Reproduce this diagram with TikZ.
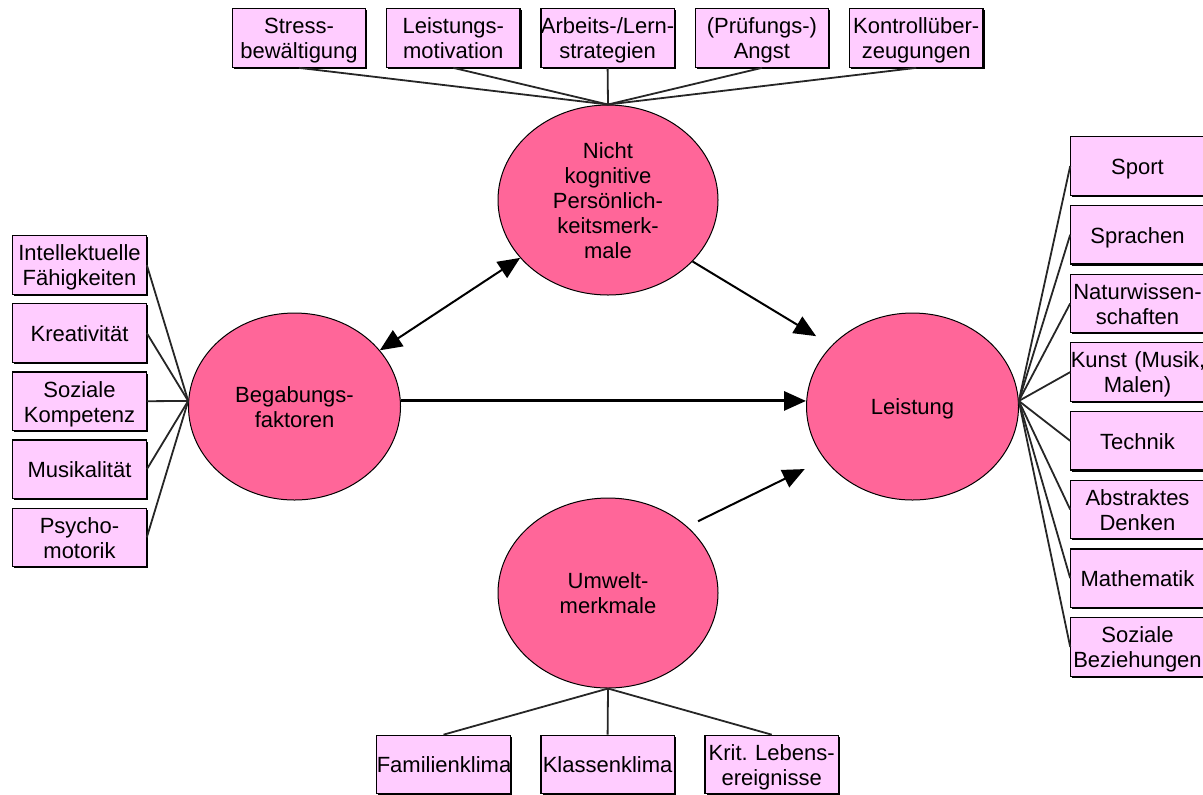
\documentclass[tikz,border=0pt]{standalone}
\usepackage{fontspec}
\setmainfont{Liberation Sans}
\usepackage{xcolor}
\usetikzlibrary{shapes.geometric, arrows.meta, positioning, shadows}
\frenchspacing

\definecolor{boxpink}{RGB}{255,204,255}
\definecolor{ballpink}{RGB}{255,102,153}

\begin{document}
\begin{tikzpicture}[x=0.5pt, y=-0.5pt, every node/.style={font=\fontsize{11}{12.5}\selectfont,
    execute at begin node={\rule{0pt}{11pt}}, execute at end node={\rule[-2.7pt]{0pt}{2.7pt}}}, align=center]
  % Styles
  \tikzset{
    >={Triangle[length=11pt, width=9.5pt]},
    feature/.style={rectangle, draw, line width=0.6pt, fill=boxpink, text width=66.7pt, minimum height=29.25pt, inner sep=0pt,
      drop shadow={shadow xshift=0.8pt, shadow yshift=-0.8pt, fill=black, opacity=1}},
    factor/.style={ellipse, draw, line width=0.5pt, fill=ballpink, text width=60pt, minimum width=110pt, minimum height=95pt, inner sep=0pt},
    link/.style={line width=0.9pt, black!85},
    arrow/.style={->, line width=1pt}
  }
  \useasboundingbox (0,0) rectangle (1203,794);

  % Factors
  \node (nkp) [factor] at (608,200) {Nicht\\kognitive\\Persönlich-\\keitsmerk-\\male};
  \node (beg) [factor, minimum width=106pt, minimum height=93.5pt] at (294.5,406.5) {Begabungs-\\faktoren};
  \node (leist) [factor, minimum width=106pt, minimum height=93.5pt] at (912.5,406.5) {Leistung};
  \node (umw) [factor] at (608,593) {Umwelt-\\merkmale};

  % Top row
  \node (stress) [feature] at (299,38) {Stress-\\bewältigung};
  \node (motiv) [feature, right=9.85pt of stress] {Leistungs-\\motivation};
  \node (strat) [feature, right=9.85pt of motiv] {Arbeits-/Lern-\\strategien};
  \node (angst) [feature, right=9.85pt of strat] {(Prüfungs-)\\Angst};
  \node (kontr) [feature, right=9.85pt of angst] {Kontrollüber-\\zeugungen};

  % Left column
  \node (intel) [feature] at (79.5,265) {Intellektuelle\\Fähigkeiten};
  \node (krea) [feature, below=4.2pt of intel] {Kreativität};
  \node (sozkomp) [feature, below=4.2pt of krea] {Soziale\\Kompetenz};
  \node (musik) [feature, below=4.2pt of sozkomp] {Musikalität};
  \node (psymo) [feature, below=4.2pt of musik] {Psycho-\\motorik};

  % Right column
  \node (sport) [feature] at (1137.5,166) {Sport};
  \node (sprach) [feature, below=4.5pt of sport] {Sprachen};
  \node (natur) [feature, below=4.5pt of sprach] {Naturwissen-\\schaften};
  \node (kunst) [feature, below=4.5pt of natur] {\mbox{Kunst (Musik,}\\Malen)};
  \node (technik) [feature, below=4.5pt of kunst] {Technik};
  \node (abstr) [feature, below=4.5pt of technik] {Abstraktes\\Denken};
  \node (mathe) [feature, below=4.5pt of abstr] {Mathematik};
  \node (sozbez) [feature, below=4.5pt of mathe] {Soziale\\Beziehungen};

  % Bottom row
  \node (fam) [feature] at (443.5,764.5) {Familienklima};
  \node (klasse) [feature, right=14.75pt of fam] {Klassenklima};
  \node (krit) [feature, right=14.75pt of klasse] {Krit. Lebens-\\ereignisse};

  % Links
  \draw [link] (stress.south) -- (nkp.north);
  \draw [link] (motiv.south) -- (nkp.north);
  \draw [link] (strat.south) -- (nkp.north);
  \draw [link] (angst.south) -- (nkp.north);
  \draw [link] (kontr.south) -- (nkp.north);

  \draw [link] (intel.east) -- (beg.177);
  \draw [link] (krea.east) -- (beg.177);
  \draw [link] (sozkomp.east) -- (beg.177);
  \draw [link] (musik.east) -- (beg.177);
  \draw [link] (psymo.east) -- (beg.177);

  \draw [link] (sport.west) -- (leist.3);
  \draw [link] (sprach.west) -- (leist.3);
  \draw [link] (natur.west) -- (leist.3);
  \draw [link] (kunst.west) -- (leist.3);
  \draw [link] (technik.west) -- (leist.3);
  \draw [link] (abstr.west) -- (leist.3);
  \draw [link] (mathe.west) -- (leist.3);
  \draw [link] (sozbez.west) -- (leist.3);

  \draw [link] (fam.north) -- (umw.south);
  \draw [link] (klasse.north) -- (umw.south);
  \draw [link] (krit.north) -- (umw.south);

  % Arrows
  \draw [arrow, <->] (beg) -- (nkp);
  \draw [arrow, shorten >=9pt] (nkp.-36) -- (leist.143);
  \draw [arrow, line width=1.5pt] (beg.3) -- (beg.3 -| leist.west);
  \draw [arrow, shorten <=6pt, shorten >=11pt] (umw.40) -- (leist.211);
\end{tikzpicture}
\end{document}
